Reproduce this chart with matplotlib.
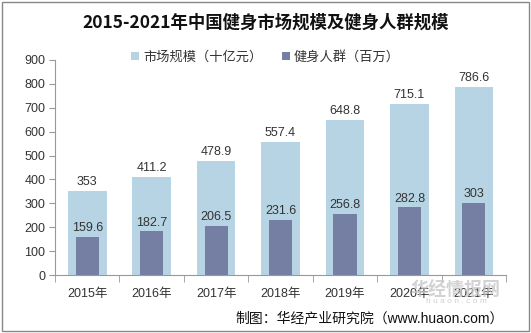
import matplotlib.pyplot as plt
from matplotlib.patches import Rectangle

plt.rcParams['font.family'] = ['Liberation Sans', 'Noto Sans CJK SC', 'DejaVu Sans']

years = ['2015年', '2016年', '2017年', '2018年', '2019年', '2020年', '2021年']
market = [353, 411.2, 478.9, 557.4, 648.8, 715.1, 786.6]
people = [159.6, 182.7, 206.5, 231.6, 256.8, 282.8, 303]

c_market = '#b7d4e5'
c_people = '#757fa3'
txt = '#333333'

fig = plt.figure(figsize=(5.31, 3.33), dpi=100)
ax = fig.add_axes([0.1036, 0.174, 0.8495, 0.646])

x = list(range(len(years)))
ax.bar(x, market, width=0.6, color=c_market, label='市场规模（十亿元）', zorder=2)
ax.bar(x, people, width=0.36, color=c_people, label='健身人群（百万）', zorder=3)

for i in x:
    ax.text(i, market[i] + 12, f'{market[i]:g}', ha='center', va='bottom',
            fontsize=9, color=txt)
    ax.text(i, people[i] + 12, f'{people[i]:g}', ha='center', va='bottom',
            fontsize=9, color=txt)

ax.set_xlim(-0.5, len(years) - 0.5)
ax.set_ylim(0, 900)
ax.set_yticks(range(0, 901, 100))
ax.set_xticks(x)
ax.set_xticklabels(years)
ax.set_xticks([i - 0.5 for i in range(len(years) + 1)], minor=True)
ax.tick_params(axis='x', which='major', length=0, pad=9, labelsize=9, labelcolor=txt)
ax.tick_params(axis='x', which='minor', length=5, color='#999999')
ax.tick_params(axis='y', length=4, color='#999999', labelsize=9, labelcolor=txt, pad=3)
for s in ['top', 'right']:
    ax.spines[s].set_visible(False)
for s in ['left', 'bottom']:
    ax.spines[s].set_color('#999999')

leg = fig.legend(loc='center', bbox_to_anchor=(0.5, 0.828), ncol=2, frameon=False,
                 fontsize=9.5, handlelength=0.6, handleheight=0.6, handletextpad=0.3,
                 columnspacing=1.5)
for t in leg.get_texts():
    t.set_color(txt)

fig.text(0.5, 0.932, '2015-2021年中国健身市场规模及健身人群规模', ha='center', va='center',
         fontsize=12.5, fontweight='bold', color='#111111',
         family=['Noto Sans CJK SC', 'DejaVu Sans'])

# watermark behind the axis labels
fig.text(0.857, 0.128, '华经情报网', ha='center', va='center', fontsize=13, fontweight='bold',
         color='#c8c8c8', alpha=0.8, family=['Noto Sans CJK SC'], zorder=0)
fig.text(0.86, 0.094, 'h u a o n . c o m', ha='center', va='center', fontsize=6,
         color='#d0d0d0', zorder=0)

fig.text(0.948, 0.043, '制图：华经产业研究院（www.huaon.com）', ha='right', va='center',
         fontsize=10, color='#111111')

fig.patches.append(Rectangle((0.004, 0.006), 0.992, 0.988, transform=fig.transFigure,
                             fill=False, edgecolor='#888888', linewidth=1))

fig.savefig('out.png', dpi=100)
